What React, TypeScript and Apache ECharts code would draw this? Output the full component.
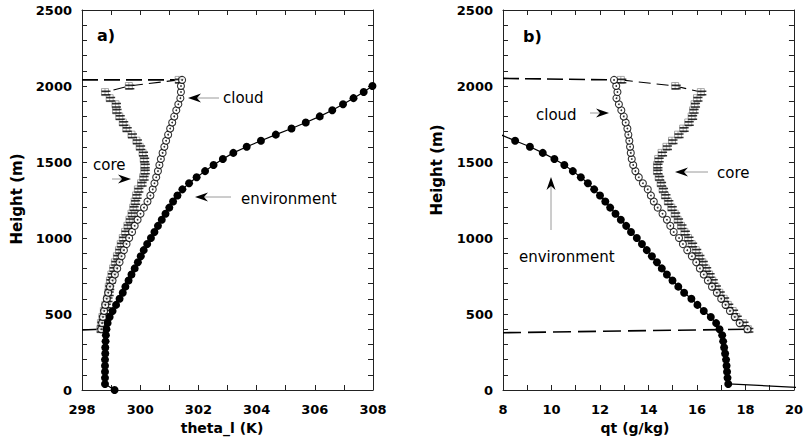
import React, { useEffect, useRef } from "react";
import * as echarts from "echarts";

// ---- Data ----
const profileHeights = [
  0, 40, 80, 120, 160, 200, 240, 280, 320, 360, 400, 440, 480, 520, 560, 600, 640, 680, 720, 760,
  800, 840, 880, 920, 960, 1000, 1040, 1080, 1120, 1160, 1200, 1240, 1280, 1320, 1360, 1400, 1440,
  1480, 1520, 1560, 1600, 1640, 1680, 1720, 1760, 1800, 1840, 1880, 1920, 1960, 2000,
];
const envTheta = [
  299.12, 298.79, 298.79, 298.79, 298.79, 298.79, 298.8, 298.8, 298.81, 298.82, 298.84, 298.88,
  298.95, 299.05, 299.17, 299.29, 299.4, 299.49, 299.6, 299.7, 299.81, 299.92, 300.02, 300.12,
  300.24, 300.37, 300.49, 300.61, 300.74, 300.87, 301.0, 301.13, 301.28, 301.45, 301.68, 301.94,
  302.23, 302.52, 302.84, 303.2, 303.66, 304.15, 304.66, 305.2, 305.69, 306.17, 306.6, 306.97,
  307.33, 307.68, 307.98,
];
const envQt = [
  22.3, 17.29, 17.26, 17.24, 17.22, 17.2, 17.16, 17.12, 17.08, 17.04, 16.93, 16.79, 16.57, 16.28,
  16.02, 15.77, 15.47, 15.23, 14.99, 14.76, 14.55, 14.35, 14.14, 13.93, 13.73, 13.52, 13.28, 13.08,
  12.86, 12.64, 12.42, 12.22, 12.0, 11.76, 11.5, 11.21, 10.88, 10.53, 10.12, 9.64, 9.11, 8.5, 7.9,
  null, null, null, null, null, null, null, null,
];
const cloudHeights = [
  400, 440, 480, 520, 560, 600, 640, 680, 720, 760, 800, 840, 880, 920, 960, 1000, 1040, 1080, 1120,
  1160, 1200, 1240, 1280, 1320, 1360, 1400, 1440, 1480, 1520, 1560, 1600, 1640, 1680, 1720, 1760,
  1800, 1840, 1880, 1920, 1960, 2000, 2040,
];
const cloudTheta = [
  298.66, 298.69, 298.72, 298.76, 298.8, 298.85, 298.9, 298.96, 299.05, 299.13, 299.21, 299.29,
  299.36, 299.44, 299.53, 299.62, 299.72, 299.81, 299.91, 300.01, 300.13, 300.25, 300.35, 300.43,
  300.49, 300.55, 300.61, 300.66, 300.71, 300.77, 300.83, 300.89, 300.96, 301.03, 301.1, 301.17,
  301.24, 301.31, 301.38, 301.4, 301.4, 301.44,
];
const coreTheta = [
  298.63, 298.65, 298.7, 298.75, 298.8, 298.86, 298.9, 298.92, 298.96, 299.01, 299.07, 299.13,
  299.2, 299.27, 299.33, 299.4, 299.48, 299.56, 299.63, 299.7, 299.76, 299.81, 299.86, 299.92,
  300.03, 300.1, 300.14, 300.14, 300.12, 300.08, 299.98, 299.87, 299.7, 299.52, 299.4, 299.28,
  299.17, 299.15, 298.95, 298.79, 299.61, 301.32,
];
const cloudQt = [
  18.08, 17.76, 17.56, 17.36, 17.18, 17.0, 16.82, 16.62, 16.45, 16.28, 16.12, 15.97, 15.79, 15.6,
  15.42, 15.26, 15.04, 14.9, 14.76, 14.58, 14.38, 14.22, 14.1, 13.97, 13.77, 13.6, 13.46, 13.37,
  13.31, 13.27, 13.24, 13.21, 13.17, 13.13, 13.06, 12.98, 12.88, 12.78, 12.68, 12.72, 12.67, 12.58,
];
const coreQt = [
  18.1, 17.9, 17.62, 17.47, 17.27, 17.1, 16.92, 16.76, 16.63, 16.5, 16.36, 16.22, 16.08, 15.95,
  15.78, 15.63, 15.48, 15.34, 15.2, 15.08, 14.94, 14.8, 14.68, 14.58, 14.5, 14.42, 14.35, 14.35,
  14.4, 14.54, 14.74, 14.97, 15.22, 15.43, 15.64, 15.78, 15.84, 15.9, 16.0, 16.16, 15.1, 12.86,
];
// heights where the cloud-top / cloud-base guide lines leave the left axis
const cloudTopLineStart = [2040, 2050];
const cloudBaseLineStart = [395, 377];

const thetaRange = [298, 308];
const qtRange = [8, 20];
const heightRange = [0, 2500];
const xTitles = ["theta_l (K)", "qt (g/kg)"];
const panelLabels = ["a)", "b)"];

// ---- Layout ----
const GRIDS = [
  { left: 82, top: 10, width: 291, height: 380 },
  { left: 503, top: 10, width: 291, height: 380 },
];

const pairs = (xs: (number | null)[], hs: number[]) =>
  xs.map((x, i) => [x, hs[i]]).filter((p) => p[0] !== null);

const CORE_SYMBOL = "path://M0,0H10V10H0Z M5,0V10 M0,5H10";
const BAR_SYMBOL = "path://M0,0H10V1.8H0Z M0,4.2H10V6H0Z";

function arrow(x1: number, y1: number, x2: number, y2: number) {
  const dx = x2 - x1;
  const dy = y2 - y1;
  const len = Math.sqrt(dx * dx + dy * dy);
  const ux = dx / len;
  const uy = dy / len;
  const px = -uy;
  const py = ux;
  const hl = 13;
  const hw = 4.5;
  const bx = x2 - ux * hl;
  const by = y2 - uy * hl;
  const nx = x2 - ux * (hl - 4);
  const ny = y2 - uy * (hl - 4);
  return [
    {
      type: "line",
      shape: { x1, y1, x2: nx, y2: ny },
      style: { stroke: "#9a9a9a", lineWidth: 1 },
    },
    {
      type: "polygon",
      shape: {
        points: [
          [x2, y2],
          [bx + px * hw, by + py * hw],
          [nx, ny],
          [bx - px * hw, by - py * hw],
        ],
      },
      style: { fill: "#000" },
    },
  ];
}

const labelText = (text: string, x: number, y: number) => ({
  type: "text",
  x,
  y,
  style: {
    text,
    fill: "#000",
    font: "15px 'DejaVu Sans'",
    textAlign: "left",
    textVerticalAlign: "middle",
  },
});

const boldText = (text: string, x: number, y: number, size: number, rot = 0, align = "center") => ({
  type: "text",
  x,
  y,
  rotation: rot,
  style: {
    text,
    fill: "#000",
    font: `bold ${size}px 'DejaVu Sans'`,
    textAlign: align,
    textVerticalAlign: "middle",
  },
});

export default function App() {
  const ref = useRef<HTMLDivElement>(null);

  useEffect(() => {
    if (!ref.current) return;
    const chart = echarts.init(ref.current, undefined, { renderer: "svg" });

    const ranges = [thetaRange, qtRange];
    const envX = [envTheta, envQt];
    const cloudX = [cloudTheta, cloudQt];
    const coreX = [coreTheta, coreQt];

    const axisLine = { show: true, onZero: false, lineStyle: { color: "#222", width: 1 } };
    const tickStyle = { lineStyle: { color: "#222", width: 1 } };
    const labelStyle = {
      fontFamily: "DejaVu Sans",
      fontWeight: "bold",
      fontSize: 13,
      color: "#000",
      formatter: (v: number) => String(v),
    };

    const xAxis: any[] = [];
    const yAxis: any[] = [];
    const series: any[] = [];

    for (let i = 0; i < 2; i++) {
      const r = ranges[i];
      for (const pos of ["bottom", "top"]) {
        xAxis.push({
          type: "value",
          gridIndex: i,
          position: pos,
          min: r[0],
          max: r[1],
          interval: 2,
          axisLine,
          axisTick: { show: true, inside: true, length: 5, ...tickStyle },
          minorTick: { show: true, splitNumber: 2, length: 5, ...tickStyle },
          splitLine: { show: false },
          minorSplitLine: { show: false },
          axisLabel: {
            show: pos === "bottom",
            margin: 13,
            showMinLabel: true,
            showMaxLabel: true,
            ...labelStyle,
          },
        });
      }
      for (const pos of ["left", "right"]) {
        yAxis.push({
          type: "value",
          gridIndex: i,
          position: pos,
          min: heightRange[0],
          max: heightRange[1],
          interval: 500,
          axisLine,
          axisTick: { show: true, inside: true, length: 5, ...tickStyle },
          minorTick: { show: true, splitNumber: 5, length: 5, ...tickStyle },
          splitLine: { show: false },
          minorSplitLine: { show: false },
          axisLabel: { show: pos === "left", margin: 10, ...labelStyle },
        });
      }

      const xi = 2 * i;
      const yi = 2 * i;
      const cloud = pairs(cloudX[i], cloudHeights);
      const core = pairs(coreX[i], cloudHeights);
      const n = cloud.length;

      // cloud-top guide line (from left axis to cloud top)
      series.push({
        type: "line",
        xAxisIndex: xi,
        yAxisIndex: yi,
        data: [[r[0], cloudTopLineStart[i]], cloud[n - 1]],
        symbol: "none",
        lineStyle: { color: "#000", width: 1.6, type: [16, 6] },
        z: 1,
      });
      // core top, dashed
      series.push({
        type: "line",
        xAxisIndex: xi,
        yAxisIndex: yi,
        data: [core[n - 1], core[n - 2], core[n - 3]],
        symbol: "none",
        lineStyle: { color: "#000", width: 1.1, type: [12, 6] },
        z: 1,
      });
      // cloud-base guide line
      series.push({
        type: "line",
        xAxisIndex: xi,
        yAxisIndex: yi,
        data: [[r[0], cloudBaseLineStart[i]], cloud[0]],
        symbol: "none",
        lineStyle: { color: "#000", width: 1.6, type: [18, 7] },
        z: 1,
      });
      // core markers
      series.push({
        type: "scatter",
        xAxisIndex: xi,
        yAxisIndex: yi,
        data: core,
        symbol: CORE_SYMBOL,
        symbolSize: 7,
        itemStyle: { color: "#fff", borderColor: "#888", borderWidth: 0.9 },
        z: 2,
      });
      series.push({
        type: "scatter",
        xAxisIndex: xi,
        yAxisIndex: yi,
        data: core,
        symbol: BAR_SYMBOL,
        symbolSize: [9, 5],
        symbolOffset: [1, 1],
        itemStyle: { color: "#000" },
        z: 3,
      });
      // cloud markers
      series.push({
        type: "scatter",
        xAxisIndex: xi,
        yAxisIndex: yi,
        data: cloud,
        symbol: "circle",
        symbolSize: 7,
        itemStyle: { color: "#fff", borderColor: "#000", borderWidth: 1.1 },
        z: 4,
      });
      series.push({
        type: "scatter",
        xAxisIndex: xi,
        yAxisIndex: yi,
        data: cloud,
        symbol: "circle",
        symbolSize: 1.8,
        itemStyle: { color: "#000" },
        z: 4,
      });
      // environment
      series.push({
        type: "line",
        xAxisIndex: xi,
        yAxisIndex: yi,
        data: pairs(envX[i], profileHeights),
        symbol: "circle",
        symbolSize: 8,
        showSymbol: true,
        showAllSymbol: true,
        clip: true,
        itemStyle: { color: "#000" },
        lineStyle: { color: "#000", width: 1.2 },
        z: 5,
      });
    }

    const graphic: any[] = [
      boldText(panelLabels[0], 97, 35, 16, 0, "left"),
      boldText(panelLabels[1], 523, 36, 16, 0, "left"),
      boldText(xTitles[0], 222, 428, 14),
      boldText(xTitles[1], 635, 428, 14),
      boldText("Height (m)", 17, 199, 15, Math.PI / 2),
      boldText("Height (m)", 437, 170, 15, Math.PI / 2),
      labelText("cloud", 223, 98),
      labelText("core", 93, 165),
      labelText("environment", 241, 199),
      labelText("cloud", 536, 115),
      labelText("core", 717, 173),
      labelText("environment", 519, 257),
      ...arrow(219, 98, 188, 98),
      ...arrow(112, 179, 131, 179),
      ...arrow(231, 197, 195, 197),
      ...arrow(590, 113, 609, 113),
      ...arrow(708, 172, 675, 172),
      ...arrow(551, 230, 551, 177),
    ];

    chart.setOption({
      animation: false,
      backgroundColor: "#fff",
      grid: GRIDS.map((g) => ({ ...g, containLabel: false })),
      xAxis,
      yAxis,
      series,
      graphic,
    });

    return () => chart.dispose();
  }, []);

  return (
    <div
      ref={ref}
      style={{ position: "fixed", left: 0, top: 0, width: 806, height: 441, background: "#fff" }}
    />
  );
}
